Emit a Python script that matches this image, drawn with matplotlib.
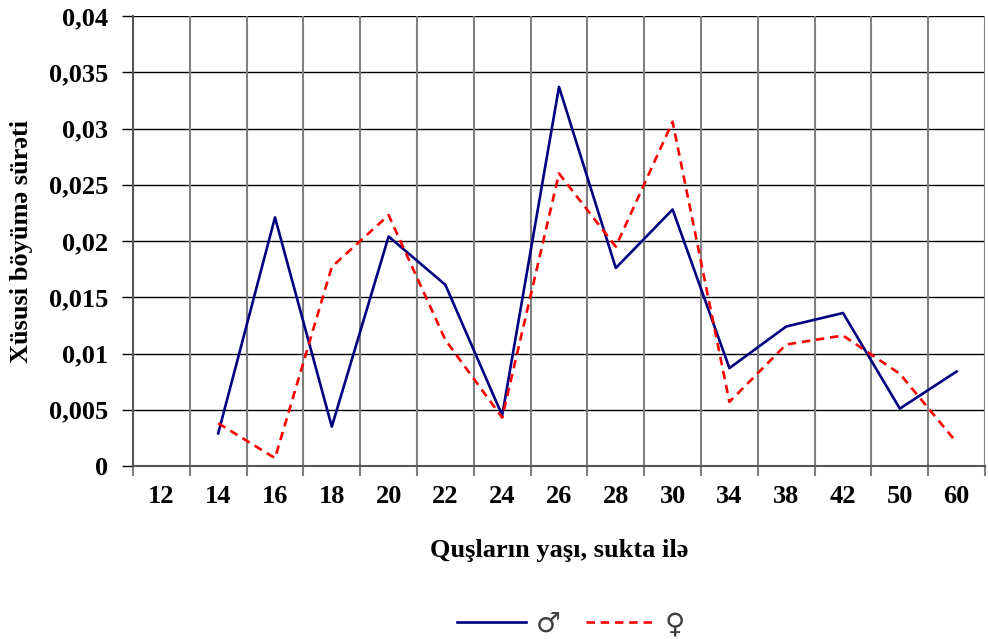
import matplotlib
matplotlib.use("Agg")
import matplotlib.pyplot as plt
import numpy as np

categories = ["12", "14", "16", "18", "20", "22", "24", "26", "28", "30", "34", "38", "42", "50", "60"]
male = [None, 0.0029, 0.0221, 0.0035, 0.0204, 0.0161, 0.0045, 0.0337, 0.0176, 0.0228, 0.0087, 0.0124, 0.0136, 0.0051, 0.0084]
female = [None, 0.0038, 0.0007, 0.0177, 0.0223, 0.0112, 0.0043, 0.0260, 0.0195, 0.0306, 0.0057, 0.0108, 0.0116, 0.0082, 0.0021]
yticks = [0, 0.005, 0.01, 0.015, 0.02, 0.025, 0.03, 0.035, 0.04]
ytick_labels = ["0", "0,005", "0,01", "0,015", "0,02", "0,025", "0,03", "0,035", "0,04"]

serif = "Liberation Serif"
fs = 19

fig = plt.figure(figsize=(9.88, 6.39), dpi=100)
ax = fig.add_axes([133/988, 1 - 466/639, (985 - 133)/988, (466 - 16)/639])

x = np.arange(len(categories))
m = np.array([np.nan if v is None else v for v in male], dtype=float)
f = np.array([np.nan if v is None else v for v in female], dtype=float)

ax.plot(x, m, color="#000080", lw=1.9, label="♂", zorder=3)
ax.plot(x, f, color="#ff0000", lw=1.9, ls=(0, (3.2, 2.2)), label="♀", zorder=3)

ax.set_xlim(-0.5, len(categories) - 0.5)
ax.set_ylim(0, 0.04)

for v in yticks:
    ax.axhline(v, color="black", lw=1.0, zorder=1)
bounds = np.arange(-0.5, len(categories) + 0.5, 1)
for b in bounds:
    ax.axvline(b, color="#808080", lw=1.5, zorder=1)

ax.set_xticks(x)
ax.set_xticklabels(categories, fontfamily=serif, fontweight="bold", fontsize=fs)
ax.set_xticks(bounds, minor=True)
ax.tick_params(axis="x", which="major", length=0, pad=14)
ax.tick_params(axis="x", which="minor", length=7, width=1.5, color="#808080", direction="out")

ax.set_yticks(yticks)
ax.set_yticklabels(ytick_labels, fontfamily=serif, fontweight="bold", fontsize=fs)
ax.tick_params(axis="y", length=8, width=1.0, color="black", direction="out", pad=10)

for s in ["top", "right"]:
    ax.spines[s].set_visible(False)
ax.spines["left"].set_color("#555555")
ax.spines["left"].set_linewidth(1.5)
ax.spines["bottom"].set_color("#555555")
ax.spines["bottom"].set_linewidth(1.5)

ax.set_ylabel("Xüsusi böyümə sürəti", fontfamily=serif, fontweight="bold", fontsize=fs, labelpad=11)
ax.set_xlabel("Quşların yaşı, sukta ilə", fontfamily=serif, fontweight="bold", fontsize=fs, labelpad=22)

leg = fig.legend(loc="center", bbox_to_anchor=(571/988, 1 - 624/639), ncol=2, frameon=False,
                 handlelength=2.5, columnspacing=0.9, handletextpad=0.35,
                 prop={"family": "DejaVu Sans", "size": 20})
for t in leg.get_texts():
    t.set_color("#404040")

fig.savefig("out.png", dpi=100)
